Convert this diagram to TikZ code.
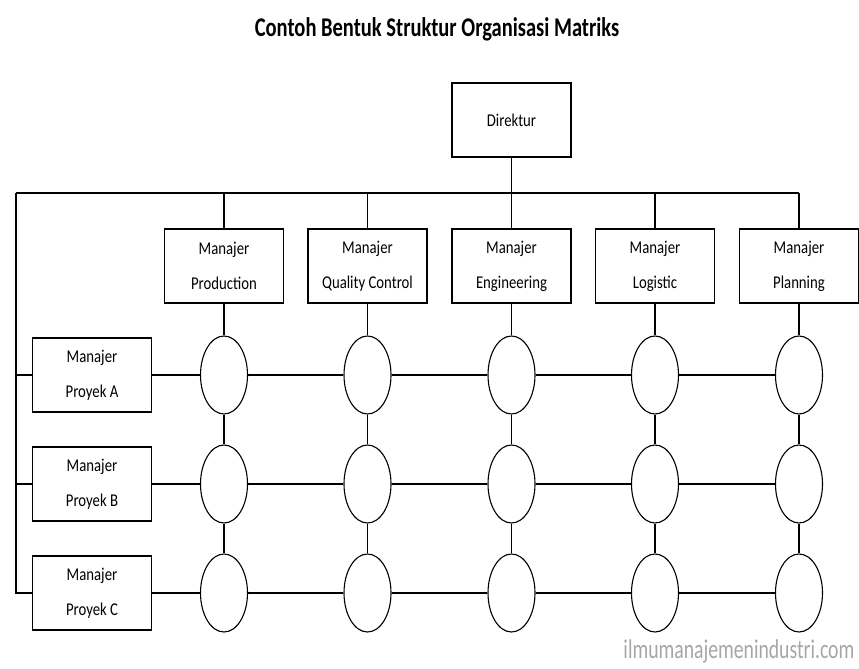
\documentclass[tikz,border=0pt]{standalone}
\usepackage{fontspec}
\usepackage{graphicx}
\setmainfont{Carlito}
\usetikzlibrary{shapes.geometric}
\newcommand{\teks}[1]{\scalebox{0.82}[1]{#1}}
\tikzstyle{jabatan}=[
    draw,
    line width = 1.4pt,
    fill = white,
    minimum width = 119pt,
    minimum height = 74pt,
    inner sep = 0pt,
    align = center,
    font = \fontsize{18}{35}\selectfont
]
\tikzstyle{sel}=[
    draw,
    line width = 1.1pt,
    fill = white,
    ellipse,
    minimum width = 47pt,
    minimum height = 78pt,
    inner sep = 0pt
]

\begin{document}
\begin{tikzpicture}[x=1pt, y=-1pt, line width=1.2pt]
        \useasboundingbox (0,0) rectangle (859,669);

        \node[anchor=base, font=\fontsize{27}{30}\selectfont\bfseries] (judul) at (437,37) {\scalebox{0.76}[1]{Contoh Bentuk Struktur Organisasi Matriks}};
        \node[anchor=base east, inner sep=0pt, text=black!35, font=\fontsize{27}{30}\selectfont] (web) at (855,658) {\scalebox{0.73}[1]{ilmumanajemenindustri.com}};

        \node[jabatan] (dir) at (511.5,120) {\teks{Direktur}};

        \node[jabatan] (prod) at (224,266) {\teks{Manajer}\\\teks{Production}};
        \node[jabatan] (qc) at (367.5,266) {\teks{Manajer}\\\teks{Quality Control}};
        \node[jabatan] (eng) at (511.5,266) {\teks{Manajer}\\\teks{Engineering}};
        \node[jabatan] (log) at (655,266) {\teks{Manajer}\\\teks{Logistic}};
        \node[jabatan] (plan) at (799,266) {\teks{Manajer}\\\teks{Planning}};

        \node[jabatan] (pa) at (92,375) {\teks{Manajer}\\\teks{Proyek A}};
        \node[jabatan] (pb) at (92,484) {\teks{Manajer}\\\teks{Proyek B}};
        \node[jabatan] (pc) at (92,593) {\teks{Manajer}\\\teks{Proyek C}};

        % proyek A
        \node[sel] (a1) at (224,375) {};
        \node[sel] (a2) at (367.5,375) {};
        \node[sel] (a3) at (511.5,375) {};
        \node[sel] (a4) at (655,375) {};
        \node[sel] (a5) at (799,375) {};
        % proyek B
        \node[sel] (b1) at (224,484) {};
        \node[sel] (b2) at (367.5,484) {};
        \node[sel] (b3) at (511.5,484) {};
        \node[sel] (b4) at (655,484) {};
        \node[sel] (b5) at (799,484) {};
        % proyek C
        \node[sel] (c1) at (224,593) {};
        \node[sel] (c2) at (367.5,593) {};
        \node[sel] (c3) at (511.5,593) {};
        \node[sel] (c4) at (655,593) {};
        \node[sel] (c5) at (799,593) {};

        \coordinate (kiri) at (16,193);
        \coordinate (kanan) at (799,193);

        \draw[-] (kiri) -- (kanan);
        \draw[-] (dir) -- (dir |- kiri);
        \draw[-] (prod) -- (prod |- kiri);
        \draw[-] (qc) -- (qc |- kiri);
        \draw[-] (eng) -- (eng |- kiri);
        \draw[-] (log) -- (log |- kiri);
        \draw[-] (plan) -- (plan |- kiri);

        \draw[-] (kiri) |- (pc);
        \draw[-] (kiri |- pa) -- (pa);
        \draw[-] (kiri |- pb) -- (pb);

        \draw[-] (pa) -- (a1) -- (a2) -- (a3) -- (a4) -- (a5);
        \draw[-] (pb) -- (b1) -- (b2) -- (b3) -- (b4) -- (b5);
        \draw[-] (pc) -- (c1) -- (c2) -- (c3) -- (c4) -- (c5);

        \draw[-] (prod) -- (a1) -- (b1) -- (c1);
        \draw[-] (qc) -- (a2) -- (b2) -- (c2);
        \draw[-] (eng) -- (a3) -- (b3) -- (c3);
        \draw[-] (log) -- (a4) -- (b4) -- (c4);
        \draw[-] (plan) -- (a5) -- (b5) -- (c5);

    \end{tikzpicture}
\end{document}
